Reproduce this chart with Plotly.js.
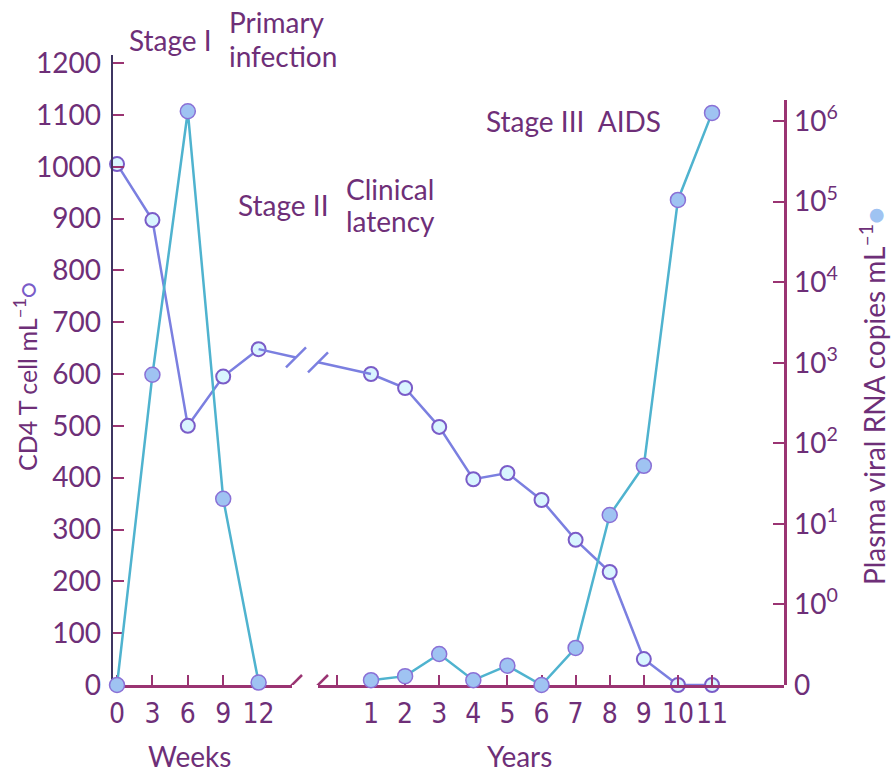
<!DOCTYPE html>
<html>
<head>
<meta charset="utf-8">
<script src="https://cdn.plot.ly/plotly-3.0.1.min.js"></script>
<style>html,body{margin:0;padding:0;background:#fff;}#chart{width:891px;height:772px;}</style>
</head>
<body>
<div id="chart"></div>
<script>
// ---- data ----
const weeks = [0, 3, 6, 9, 12];
const years = [1, 2, 3, 4, 5, 6, 7, 8, 9, 10, 11];
const cd4Weeks = [1005, 897, 500, 595, 648];
const cd4Years = [600, 573, 498, 397, 409, 357, 280, 218, 50, 0, 0];
// viral RNA on the right axis: position 0 = "0", position n+1 = 10^n copies/mL
const rnaWeeks = [0, 3.85, 7.12, 2.31, 0.03];
const rnaYears = [0.06, 0.11, 0.385, 0.06, 0.24, 0, 0.46, 2.11, 2.72, 6.02, 7.10];
const weekTicks = [0, 3, 6, 9, 12];
const yearTicks = [0, 1, 2, 3, 4, 5, 6, 7, 8, 9, 10, 11];
const yearTickText = ['', '1', '2', '3', '4', '5', '6', '7', '8', '9', '10', '11'];
const cd4Ticks = [0, 100, 200, 300, 400, 500, 600, 700, 800, 900, 1000, 1100, 1200];
const rnaTicks = [0, 1, 2, 3, 4, 5, 6, 7];
const rnaTickText = ['0', '10<sup>0</sup>', '10<sup>1</sup>', '10<sup>2</sup>', '10<sup>3</sup>', '10<sup>4</sup>', '10<sup>5</sup>', '10<sup>6</sup>'];

// ---- styling ----
const textColor = '#6e2f78';
const leftAxisColor = '#3e3562';
const axisColor = '#9a3472';
const cd4Line = '#7b7fe0';
const rnaLine = '#4fb3cf';
const mainFont = 'Lato, "Noto Sans", sans-serif';
const narrowFont = '"Liberation Sans Narrow", "DejaVu Sans Condensed", Lato, sans-serif';

const W = 891, H = 772;
const L = 113, R = 784, T = 55, B = 685;
const pw = R - L, ph = B - T;
const px = x => (x - L) / pw;
const py = y => (B - y) / ph;

const xDom = [0, px(292)];
const x2Dom = [px(318), 1];
const xRange = [-0.341, 14.83];
const x2Range = [-0.554, 13.11];
const yRange = [0, 1215.5];
const y2Dom = [0, py(100)];
const y2Range = [0, 7.26];

function toPaper(dom, rng, v) {
  return dom[0] + (v - rng[0]) / (rng[1] - rng[0]) * (dom[1] - dom[0]);
}

const cd4Marker = {symbol: 'circle', size: 14, color: '#d9f5ff', line: {color: '#7a5cc8', width: 2}};
const rnaMarker = {symbol: 'circle', size: 15, color: '#9fc3f2', line: {color: '#8a70d6', width: 1.5}};

const traces = [
  {x: weeks, y: rnaWeeks, xaxis: 'x', yaxis: 'y2', mode: 'lines+markers', line: {color: rnaLine, width: 2.5}, marker: rnaMarker, cliponaxis: false},
  {x: years, y: rnaYears, xaxis: 'x2', yaxis: 'y2', mode: 'lines+markers', line: {color: rnaLine, width: 2.5}, marker: rnaMarker, cliponaxis: false},
  {x: weeks, y: cd4Weeks, xaxis: 'x', yaxis: 'y', mode: 'lines+markers', line: {color: cd4Line, width: 2.5}, marker: cd4Marker, cliponaxis: false},
  {x: years, y: cd4Years, xaxis: 'x2', yaxis: 'y', mode: 'lines+markers', line: {color: cd4Line, width: 2.5}, marker: cd4Marker, cliponaxis: false}
];

// connector for CD4 across the axis break (derived from the data)
const pA = toPaper(xDom, xRange, weeks[weeks.length - 1]);
const pB = toPaper(x2Dom, x2Range, years[0]);
const vA = cd4Weeks[cd4Weeks.length - 1], vB = cd4Years[0];
const gap1 = px(296), gap2 = px(318);
const lerp = p => vA + (vB - vA) * (p - pA) / (pB - pA);
const dxS = 10 / pw, dyS = 10 * (yRange[1] - yRange[0]) / ph;

const shapes = [
  {type: 'line', xref: 'paper', yref: 'y', x0: pA, y0: vA, x1: gap1, y1: lerp(gap1), line: {color: cd4Line, width: 2.5}},
  {type: 'line', xref: 'paper', yref: 'y', x0: gap2, y0: lerp(gap2), x1: pB, y1: vB, line: {color: cd4Line, width: 2.5}},
  {type: 'line', xref: 'paper', yref: 'y', x0: gap1 - dxS, y0: lerp(gap1) - dyS, x1: gap1 + dxS, y1: lerp(gap1) + dyS, line: {color: cd4Line, width: 2.5}},
  {type: 'line', xref: 'paper', yref: 'y', x0: gap2 - dxS, y0: lerp(gap2) - dyS, x1: gap2 + dxS, y1: lerp(gap2) + dyS, line: {color: cd4Line, width: 2.5}},
  {type: 'line', xref: 'paper', yref: 'y', x0: xDom[1] - dxS, y0: -dyS, x1: xDom[1] + dxS, y1: dyS, line: {color: axisColor, width: 2.5}},
  {type: 'line', xref: 'paper', yref: 'y', x0: x2Dom[0] - dxS, y0: -dyS, x1: x2Dom[0] + dxS, y1: dyS, line: {color: axisColor, width: 2.5}}
];

const f = (size, fam) => ({family: fam || mainFont, size: size, color: textColor});
const ann = (text, x, y, xanchor, size, extra) => Object.assign({
  text: text, xref: 'paper', yref: 'paper', x: px(x), y: py(y), xanchor: xanchor, yanchor: 'middle',
  showarrow: false, font: f(size)
}, extra || {});

const annotations = [
  ann('Stage I', 127, 40, 'left', 28),
  ann('Primary', 227, 22, 'left', 28),
  ann('infection', 227, 56, 'left', 28),
  ann('Stage II', 236, 205, 'left', 28),
  ann('Clinical', 344, 189, 'left', 28),
  ann('latency', 344, 221, 'left', 28),
  ann('Stage III  AIDS', 484, 121, 'left', 28),
  ann('Weeks', 189, 756, 'center', 28),
  ann('Years', 519, 756, 'center', 28),
  ann('CD4 T cell mL<sup>–1</sup><span style="color:#7a5cc8">○</span>', 25, 377, 'center', 25, {textangle: -90}),
  ann('Plasma viral RNA copies mL<sup>–1</sup><span style="color:#9fc3f2">●</span>', 872, 396, 'center', 28, {textangle: -90})
];

const baseAx = {showgrid: false, zeroline: false, showline: true, linewidth: 2.5, ticks: 'inside', ticklen: 11, tickwidth: 2, fixedrange: true};

const layout = {
  width: W, height: H,
  margin: {l: L, r: W - R, t: T, b: H - B, pad: 0},
  paper_bgcolor: '#ffffff', plot_bgcolor: 'rgba(0,0,0,0)',
  showlegend: false,
  font: f(28),
  xaxis: Object.assign({}, baseAx, {domain: xDom, range: xRange, anchor: 'y', tickmode: 'array', tickvals: weekTicks, ticktext: weekTicks.map(String), linecolor: axisColor, tickcolor: axisColor, ticklen: 10, tickfont: f(28, narrowFont), ticklabelstandoff: 2}),
  xaxis2: Object.assign({}, baseAx, {domain: x2Dom, range: x2Range, anchor: 'y', tickmode: 'array', tickvals: yearTicks, ticktext: yearTickText, linecolor: axisColor, tickcolor: axisColor, ticklen: 10, tickfont: f(28, narrowFont), ticklabelstandoff: 2}),
  yaxis: Object.assign({}, baseAx, {domain: [0, 1], range: yRange, anchor: 'x', side: 'left', tickmode: 'array', tickvals: cd4Ticks, ticktext: cd4Ticks.map(String), linecolor: leftAxisColor, tickcolor: axisColor, tickfont: f(28), ticklabelstandoff: 4}),
  yaxis2: Object.assign({}, baseAx, {domain: y2Dom, range: y2Range, anchor: 'x2', side: 'right', tickmode: 'array', tickvals: rnaTicks, ticktext: rnaTickText, linecolor: axisColor, tickcolor: axisColor, tickfont: f(28), ticklabelstandoff: 2}),
  shapes: shapes,
  annotations: annotations
};

Plotly.newPlot('chart', traces, layout, {displayModeBar: false, staticPlot: true});
</script>
</body>
</html>
